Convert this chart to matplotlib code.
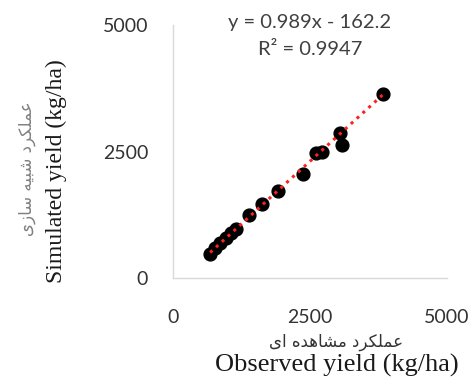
import matplotlib
matplotlib.use('Agg')
import matplotlib.pyplot as plt

# observed vs simulated yield (kg/ha)
observed = [676, 768, 859, 969, 1060, 1152, 1389, 1614, 1914, 2371,
            2609, 2718, 3053, 3084, 3834]
simulated = [474, 593, 692, 791, 889, 968, 1245, 1462, 1719, 2049,
             2464, 2496, 2860, 2628, 3630]
slope = 0.989
intercept = -162.2
r2 = 0.9947
ticks = [0, 2500, 5000]

# Persian labels need contextual letter forms, matplotlib does not shape them
forms = {
    'ع': '\uFEC9\uFECA\uFECB\uFECC', 'م': '\uFEE1\uFEE2\uFEE3\uFEE4',
    'ل': '\uFEDD\uFEDE\uFEDF\uFEE0', 'ک': '\uFB8E\uFB8F\uFB90\uFB91',
    'ش': '\uFEB5\uFEB6\uFEB7\uFEB8', 'ب': '\uFE8F\uFE90\uFE91\uFE92',
    'ی': '\uFBFC\uFBFD\uFBFE\uFBFF', 'ه': '\uFEE9\uFEEA\uFEEB\uFEEC',
    'س': '\uFEB1\uFEB2\uFEB3\uFEB4', 'ر': '\uFEAD\uFEAE', 'د': '\uFEA9\uFEAA',
    'ا': '\uFE8D\uFE8E', 'ز': '\uFEAF\uFEB0',
}


def shape(text):
    words = []
    for w in text.split(' '):
        out = ''
        for i, ch in enumerate(w):
            prev_joins = i > 0 and len(forms[w[i - 1]]) == 4
            next_joins = i < len(w) - 1 and len(forms[ch]) == 4
            f = forms[ch]
            if prev_joins and next_joins:
                out += f[3]
            elif prev_joins:
                out += f[1]
            elif next_joins:
                out += f[2]
            else:
                out += f[0]
        words.append(out[::-1])
    return ' '.join(words[::-1])


fig = plt.figure(figsize=(4.73, 3.8), dpi=100)
ax = fig.add_axes([0.366, 0.268, 0.579, 0.666])

ax.scatter(observed, simulated, s=85, color='black', zorder=2)
x0, x1 = min(observed), max(observed)
ax.plot([x0, x1], [slope * x0 + intercept, slope * x1 + intercept],
        color='#ff2020', lw=2.2, linestyle=(0, (1, 1.6)), zorder=3)

ax.set_xlim(0, 5000)
ax.set_ylim(0, 5000)
ax.set_xticks(ticks)
ax.set_yticks(ticks)
ax.tick_params(length=0, labelsize=14, pad=18, labelcolor='#333333')
for lab in ax.get_xticklabels() + ax.get_yticklabels():
    lab.set_family('Lato')
ax.tick_params(axis='x', pad=22)
for s in ['top', 'right']:
    ax.spines[s].set_visible(False)
for s in ['left', 'bottom']:
    ax.spines[s].set_color('#d9d9d9')
    ax.spines[s].set_linewidth(1)

fig.text(0.655, 0.94, 'y = 0.989x - 162.2', ha='center', va='center',
         fontsize=14.5, family='Lato', color='#404040')
fig.text(0.655, 0.87, 'R² = ' + str(r2), ha='center', va='center',
         fontsize=14.5, family='Lato', color='#404040')

fig.text(0.12, 0.55, 'Simulated yield (kg/ha)', rotation=90, ha='center',
         va='center', fontsize=17, family='Liberation Serif', color='#1a1a1a')
fig.text(0.058, 0.555, shape('عملکرد شبیه سازی'), rotation=90, ha='center',
         va='center', fontsize=12, family='DejaVu Sans', color='#808080')
fig.text(0.71, 0.1, shape('عملکرد مشاهده ای'), ha='center', va='center',
         fontsize=12, family='DejaVu Sans', color='#333333')
fig.text(0.712, 0.037, 'Observed yield (kg/ha)', ha='center', va='center',
         fontsize=19, family='Liberation Serif', color='#1a1a1a')

fig.savefig('out.png', dpi=100)
